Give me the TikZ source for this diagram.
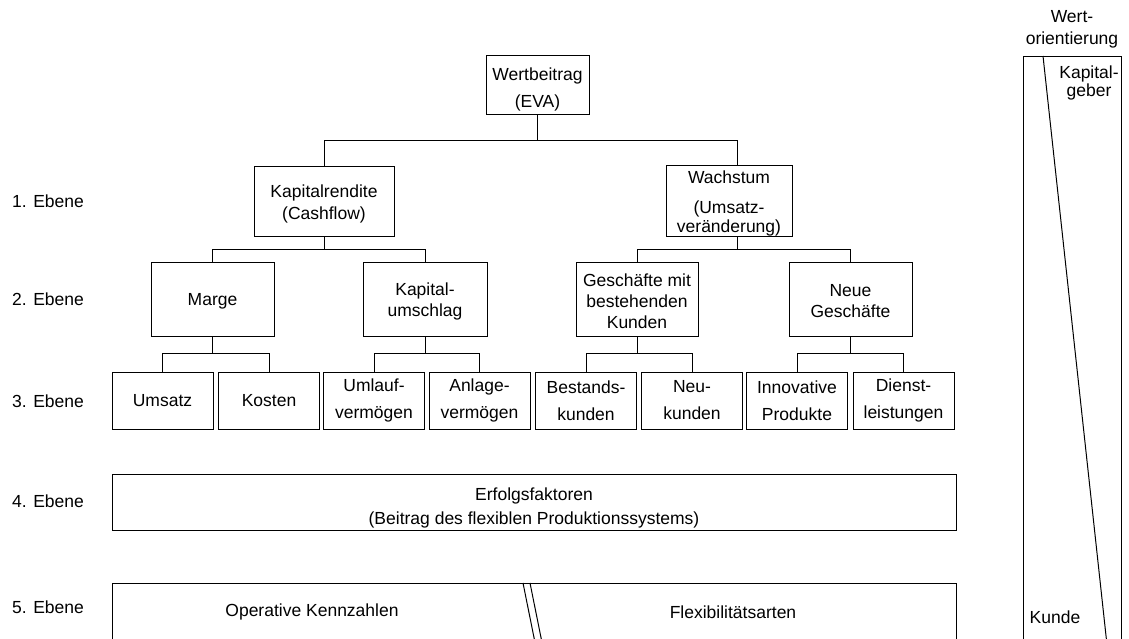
\documentclass[tikz,border=0pt]{standalone}
\usepackage{fontspec}
\setmainfont{Liberation Sans}
\usetikzlibrary{calc}
\begin{document}
\begin{tikzpicture}[x=1pt,y=-1pt]
\tikzset{
  every node/.style={font=\fontsize{17.5}{21}\selectfont, inner sep=0pt},
  box/.style={draw, line width=1pt},
  txt/.style={align=center},
  conn/.style={line width=1pt},
  lab/.style={anchor=west},
  leaf/.style={box, minimum width=101, minimum height=57},
}
\useasboundingbox (0,0) rectangle (1129,638);
\clip (0,0) rectangle (1129,638);

% level labels
\node[lab] (l1) at (12,201) {1. Ebene};
\node[lab] (l2) at (12,299) {2. Ebene};
\node[lab] (l3) at (12,401) {3. Ebene};
\node[lab] (l4) at (12,501) {4. Ebene};
\node[lab] (l5) at (12,607) {5. Ebene};

% top of the tree
\node[box, minimum width=103, minimum height=59] (wb) at (537.5,84.5) {};
\node[txt] (wbt) at ($(wb.center)+(0,5)$) {Wertbeitrag\\[6pt](EVA)};

% level 1
\node[box, minimum width=140, minimum height=70] (kr) at (324,201) {};
\node[txt] (krt) at ($(kr.center)+(0,3)$) {Kapitalrendite\\[1pt](Cashflow)};
\node[box, minimum width=126, minimum height=71] (wa) at (729,200.5) {};
\node[txt] (wat) at ($(wa.center)+(0,3)$) {Wachstum\\[9pt](Umsatz-\\[-2pt]veränderung)};

% level 2
\node[box, minimum width=123, minimum height=74] (ma) at (212.5,299) {};
\node[txt] (mat) at ($(ma.center)+(0,2.5)$) {Marge};
\node[box, minimum width=124, minimum height=74] (ku) at (425,299) {};
\node[txt] (kut) at ($(ku.center)+(0,2.5)$) {Kapital-\\umschlag};
\node[box, minimum width=122, minimum height=74] (gm) at (637,299) {};
\node[txt] (gmt) at ($(gm.center)+(0,2.5)$) {Geschäfte mit\\bestehenden\\Kunden};
\node[box, minimum width=123, minimum height=74] (ng) at (850.5,299) {};
\node[txt] (ngt) at ($(ng.center)+(0,2.5)$) {Neue\\Geschäfte};

% level 3
\node[leaf, txt] (um)  at (162.5,400.5) {Umsatz};
\node[leaf, txt] (ko)  at (269,400.5)   {Kosten};
\node[leaf, txt] (ul)  at (374,400.5)   {Umlauf-\\[6pt]vermögen};
\node[leaf, txt] (an)  at (479.5,400.5) {Anlage-\\[6pt]vermögen};
\node[leaf, txt] (be)  at (586,400.5)   {Bestands-\\[6pt]kunden};
\node[leaf, txt] (ne)  at (692,400.5)   {Neu-\\[6pt]kunden};
\node[leaf, txt] (inn) at (797,400.5)   {Innovative\\[6pt]Produkte};
\node[leaf, txt] (di)  at (903.5,400.5) {Dienst-\\[6pt]leistungen};

% level 4
\node[box, minimum width=844, minimum height=56] (ef) at (534,502) {};
\node[txt] (eft) at ($(ef.center)+(0,6)$) {Erfolgsfaktoren\\[3pt](Beitrag des flexiblen Produktionssystems)};

% level 5: open box split by a slanted double line
\draw[conn] (112,645) -- (112,583) -- (956,583) -- (956,645);
\draw[conn] (523,583) -- (535.5,645);
\draw[conn] (530,583) -- (542.5,645);
\node (ok) at (312,612) {Operative Kennzahlen};
\node (fa) at (733,612) {Flexibilitätsarten};

% side column
\node[txt] (wo) at (1072,29) {Wert-\\[1pt]orientierung};
\draw[conn] (1023,645) -- (1023,56) -- (1121,56) -- (1121,645);
\draw[conn] (1043,56) -- (1107,645);
\node[txt] (kg) at (1089,83) {Kapital-\\[-3pt]geber};
\node (kd) at (1055,617) {Kunde};

% connectors
\coordinate (wain) at ($(wa.north)+(8,0)$);
\coordinate (waout) at ($(wa.south)+(8,0)$);
\draw[conn] (wb.south) -- ++(0,26) coordinate (t0);
\draw[conn] (kr.north) |- (wain |- t0) -- (wain);

\draw[conn] (kr.south) -- ++(0,13) coordinate (t1);
\draw[conn] (ma.north) |- (ku.north |- t1) -- (ku.north);
\draw[conn] (waout) -- ++(0,13) coordinate (t2);
\draw[conn] (gm.north) |- (ng.north |- t2) -- (ng.north);

\draw[conn] (ma.south) -- ++(0,17) coordinate (t3);
\draw[conn] (um.north) |- (ko.north |- t3) -- (ko.north);
\draw[conn] (ku.south) -- ++(0,17) coordinate (t4);
\draw[conn] (ul.north) |- (an.north |- t4) -- (an.north);
\draw[conn] (gm.south) -- ++(0,17) coordinate (t5);
\draw[conn] (be.north) |- (ne.north |- t5) -- (ne.north);
\draw[conn] (ng.south) -- ++(0,17) coordinate (t6);
\draw[conn] (inn.north) |- (di.north |- t6) -- (di.north);
\end{tikzpicture}
\end{document}
